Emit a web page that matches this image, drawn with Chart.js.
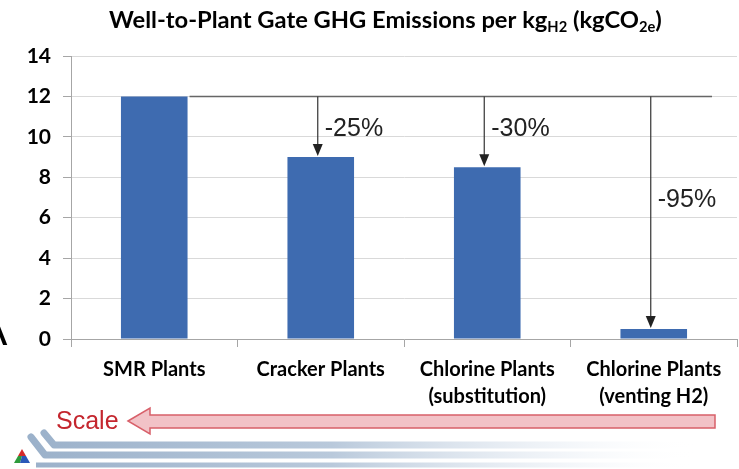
<!DOCTYPE html>
<html>
<head>
<meta charset="utf-8">
<script src="https://cdn.jsdelivr.net/npm/chart.js@4"></script>
<style>
  html, body { margin: 0; padding: 0; background: #fff; }
  #wrap { width: 739px; height: 469px; position: relative; }
</style>
</head>
<body>
<div id="wrap"><canvas id="chart" width="739" height="469"></canvas></div>
<script>
// Donnees du graphique
const categories = [['SMR Plants'], ['Cracker Plants'], ['Chlorine Plants', '(substitution)'], ['Chlorine Plants', '(venting H2)']];
const emissions = [12, 9, 8.5, 0.5];
const reductions = ['', '-25%', '-30%', '-95%'];
const yMin = 0;
const yMax = 14;
const yStep = 2;

const labelFont = 'Lato, "Open Sans", sans-serif';

// Titre avec indices
const titlePlugin = {
    id: 'titleSub',
    afterDraw(chart) {
        const ctx = chart.ctx;
        const parts = [
            ['Well-to-Plant Gate GHG Emissions per kg', false],
            ['H2', true],
            [' (kgCO', false],
            ['2e', true],
            [')', false]
        ];
        const base = 20;
        const targetW = 553;
        const measure = (size) => {
            let w = 0;
            parts.forEach(p => {
                ctx.font = 'bold ' + (p[1] ? size * 0.62 : size) + 'px ' + labelFont;
                w += ctx.measureText(p[0]).width;
            });
            return w;
        };
        const size = base * targetW / measure(base);
        let x = 109;
        const y = 28;
        ctx.save();
        ctx.fillStyle = '#000';
        ctx.textBaseline = 'alphabetic';
        ctx.textAlign = 'left';
        parts.forEach(p => {
            ctx.font = 'bold ' + (p[1] ? size * 0.62 : size) + 'px ' + labelFont;
            ctx.fillText(p[0], x, p[1] ? y + 4 : y);
            x += ctx.measureText(p[0]).width;
        });
        ctx.restore();
    }
};

// Fleches et pourcentages
const arrowPlugin = {
    id: 'arrows',
    afterDatasetsDraw(chart) {
        const ctx = chart.ctx;
        const xs = chart.scales.x;
        const ys = chart.scales.y;
        const meta = chart.getDatasetMeta(0);
        const lineY = ys.getPixelForValue(emissions[0]);
        const firstBar = meta.data[0];
        const xStart = firstBar.x + firstBar.width / 2 + 2;
        const xEnd = chart.chartArea.right - 25;

        ctx.save();
        ctx.strokeStyle = '#666';
        ctx.fillStyle = '#222';
        ctx.lineWidth = 1.6;
        ctx.beginPath();
        ctx.moveTo(xStart, lineY);
        ctx.lineTo(xEnd, lineY);
        ctx.stroke();

        for (let i = 1; i < emissions.length; i++) {
            const x = xs.getPixelForValue(i) - 3;
            const top = ys.getPixelForValue(emissions[i]) - 1;
            ctx.strokeStyle = '#333';
            ctx.lineWidth = 1.2;
            ctx.beginPath();
            ctx.moveTo(x, lineY);
            ctx.lineTo(x, top - 10);
            ctx.stroke();
            ctx.beginPath();
            ctx.moveTo(x - 5, top - 12);
            ctx.lineTo(x + 5, top - 12);
            ctx.lineTo(x, top);
            ctx.closePath();
            ctx.fill();

            const len = top - lineY;
            const ly = len > 150 ? lineY + 104 : lineY + 33;
            ctx.font = '25px "Liberation Sans", Arial, sans-serif';
            ctx.textBaseline = 'middle';
            ctx.textAlign = 'left';
            ctx.fillText(reductions[i], x + 7, ly);
        }
        ctx.restore();
    }
};

// Decor du bas (fleche Scale, bandeau, logo)
const decorPlugin = {
    id: 'decor',
    beforeDraw(chart) {
        const ctx = chart.ctx;
        ctx.save();
        ctx.fillStyle = '#fff';
        ctx.fillRect(0, 0, chart.width, chart.height);
        ctx.restore();
    },
    afterDraw(chart) {
        const ctx = chart.ctx;
        ctx.save();

        // lettre coupee a gauche
        ctx.fillStyle = '#000';
        ctx.font = '44px "Liberation Sans", Arial, sans-serif';
        ctx.textBaseline = 'alphabetic';
        ctx.fillText('A', -22, 345);

        // fleche Scale
        ctx.beginPath();
        ctx.moveTo(128, 421);
        ctx.lineTo(150, 408);
        ctx.lineTo(150, 415);
        ctx.lineTo(715, 415);
        ctx.lineTo(715, 428);
        ctx.lineTo(150, 428);
        ctx.lineTo(150, 434);
        ctx.closePath();
        ctx.fillStyle = '#f2c2c7';
        ctx.fill();
        ctx.strokeStyle = '#d8606a';
        ctx.lineWidth = 1.5;
        ctx.stroke();

        ctx.fillStyle = '#c4262e';
        ctx.font = '25px "Liberation Sans", Arial, sans-serif';
        ctx.textBaseline = 'middle';
        ctx.fillText('Scale', 56, 422);

        // bandeau bleu
        const grad = ctx.createLinearGradient(30, 0, 700, 0);
        grad.addColorStop(0, '#9bb1ca');
        grad.addColorStop(0.45, '#b9c9db');
        grad.addColorStop(0.8, 'rgba(235,240,246,0.6)');
        grad.addColorStop(1, 'rgba(255,255,255,0)');
        ctx.strokeStyle = grad;
        ctx.lineCap = 'round';
        ctx.lineJoin = 'round';
        ctx.lineWidth = 7;
        ctx.beginPath();
        ctx.moveTo(31, 437);
        ctx.lineTo(45, 455);
        ctx.lineTo(700, 455);
        ctx.stroke();
        ctx.beginPath();
        ctx.moveTo(44, 433);
        ctx.lineTo(54, 445);
        ctx.lineTo(700, 445);
        ctx.stroke();
        ctx.lineCap = 'butt';
        ctx.lineWidth = 5;
        ctx.beginPath();
        ctx.moveTo(36, 465);
        ctx.lineTo(700, 465);
        ctx.stroke();

        // logo
        ctx.fillStyle = '#d42a2a';
        ctx.beginPath(); ctx.moveTo(18, 456); ctx.lineTo(26, 456); ctx.lineTo(22, 449); ctx.closePath(); ctx.fill();
        ctx.fillStyle = '#2e9b3c';
        ctx.beginPath(); ctx.moveTo(14, 463); ctx.lineTo(20, 463); ctx.lineTo(22, 456); ctx.lineTo(18, 456); ctx.closePath(); ctx.fill();
        ctx.fillStyle = '#2a58b8';
        ctx.beginPath(); ctx.moveTo(20, 463); ctx.lineTo(30, 463); ctx.lineTo(26, 456); ctx.lineTo(22, 456); ctx.closePath(); ctx.fill();

        ctx.restore();
    }
};

new Chart(document.getElementById('chart'), {
    type: 'bar',
    data: {
        labels: categories,
        datasets: [{
            data: emissions,
            backgroundColor: '#3e6bb0',
            borderWidth: 0,
            categoryPercentage: 1,
            barPercentage: 0.4
        }]
    },
    options: {
        responsive: false,
        animation: false,
        events: [],
        layout: { padding: { top: 56, right: 2, left: 0, bottom: 0 } },
        plugins: {
            legend: { display: false },
            title: { display: false },
            tooltip: { enabled: false }
        },
        scales: {
            x: {
                afterFit(scale) { scale.height = 130; },
                grid: {
                    drawOnChartArea: false,
                    offset: true,
                    tickLength: 8,
                    tickColor: '#a6a6a6'
                },
                border: { color: '#a6a6a6', width: 1 },
                ticks: {
                    color: '#000',
                    padding: 9,
                    maxRotation: 0,
                    font: { family: labelFont, weight: 'bold', size: 20, lineHeight: 1.35 }
                }
            },
            y: {
                min: yMin,
                max: yMax,
                afterFit(scale) { scale.width = 71; },
                grid: {
                    color: '#d9d9d9',
                    tickLength: 8,
                    tickColor: '#a6a6a6'
                },
                border: { color: '#a6a6a6', width: 1 },
                ticks: {
                    stepSize: yStep,
                    color: '#000',
                    padding: 12,
                    font: { family: labelFont, weight: 'bold', size: 21 }
                }
            }
        }
    },
    plugins: [decorPlugin, titlePlugin, arrowPlugin]
});
</script>
</body>
</html>
